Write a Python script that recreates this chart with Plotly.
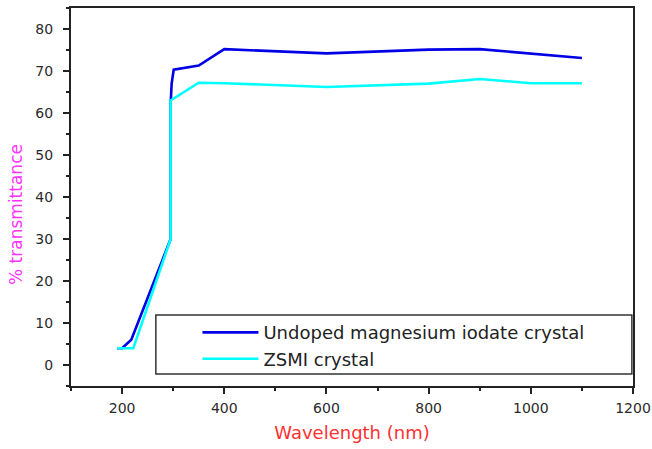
import plotly.graph_objects as go

# Transmittance spectra (% T vs wavelength in nm)
wl_undoped = [190, 200, 218, 295, 295, 297, 301, 350, 400, 600, 800, 900, 1100]
t_undoped = [4, 4, 6, 30, 62, 67, 70.3, 71.3, 75.2, 74.2, 75.1, 75.2, 73.1]

wl_zsmi = [190, 222, 295, 295, 350, 400, 600, 800, 900, 1000, 1100]
t_zsmi = [4, 4, 30, 63, 67.2, 67.1, 66.2, 67, 68.1, 67.1, 67.1]

x_ticks = [200, 400, 600, 800, 1000, 1200]
y_ticks = [0, 10, 20, 30, 40, 50, 60, 70, 80]

FONT = "DejaVu Sans"
TICK_COLOR = "#2a2a2a"

fig = go.Figure()
fig.add_trace(go.Scatter(x=wl_undoped, y=t_undoped, mode="lines",
                         name="Undoped magnesium iodate crystal",
                         line=dict(color="#0000e6", width=2.6)))
fig.add_trace(go.Scatter(x=wl_zsmi, y=t_zsmi, mode="lines",
                         name="ZSMI crystal",
                         line=dict(color="#00ffff", width=2.6)))

axis_common = dict(showgrid=False, zeroline=False, showline=True,
                   linecolor="#222", linewidth=2, mirror=True, automargin=False,
                   ticks="outside", ticklen=6, tickwidth=1.5, tickcolor="#222",
                   tickfont=dict(family=FONT, size=14, color=TICK_COLOR))

fig.update_xaxes(range=[100, 1200], tickvals=x_ticks, ticklabelstandoff=2,
                 minor=dict(dtick=100, ticks="outside", ticklen=3, tickwidth=1.5, tickcolor="#222"),
                 title=dict(text="Wavelength (nm)", font=dict(family=FONT, size=18, color="#ff3030"),
                            standoff=12),
                 **axis_common)
fig.update_yaxes(range=[-5, 85], tickvals=y_ticks, ticklabelstandoff=7,
                 minor=dict(dtick=5, ticks="outside", ticklen=3, tickwidth=1.5, tickcolor="#222"),
                 **axis_common)

# Y-axis title, placed slightly below the vertical centre of the plot
fig.add_annotation(text="% transmittance", xref="paper", yref="paper",
                   x=-0.098, y=0.455, xanchor="center", yanchor="middle",
                   textangle=-90, showarrow=False,
                   font=dict(family=FONT, size=17, color="#ff33ff"))

# Legend frame
fig.add_shape(type="rect", xref="paper", yref="paper",
              x0=0.151, x1=0.998, y0=0.032, y1=0.188,
              line=dict(color="#333", width=1.5), fillcolor="rgba(0,0,0,0)")

fig.update_layout(
    width=652, height=449,
    margin=dict(l=71, r=19, t=8, b=63),
    paper_bgcolor="white", plot_bgcolor="white",
    font=dict(family=FONT),
    legend=dict(x=0.225, y=0.19, xanchor="left", yanchor="top",
                bgcolor="rgba(0,0,0,0)", borderwidth=0,
                itemwidth=56, tracegroupgap=0,
                font=dict(family=FONT, size=18, color="#222")),
)

fig.write_html("out.html")
